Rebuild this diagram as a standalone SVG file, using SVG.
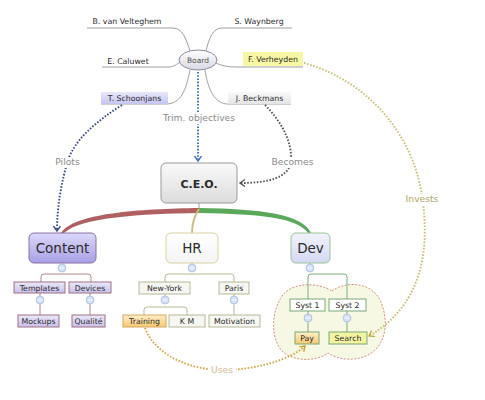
<svg xmlns="http://www.w3.org/2000/svg" width="485" height="400" viewBox="0 0 485 400">
<defs>
<linearGradient id="gBoard" x1="0" y1="0" x2="0" y2="1"><stop offset="0" stop-color="#ffffff"/><stop offset="1" stop-color="#d8d8e4"/></linearGradient>
<linearGradient id="gCeo" x1="0" y1="0" x2="0" y2="1"><stop offset="0" stop-color="#fafafa"/><stop offset="1" stop-color="#dcdcdc"/></linearGradient>
<linearGradient id="gContent" x1="0" y1="0" x2="0" y2="1"><stop offset="0" stop-color="#dcd8fa"/><stop offset="1" stop-color="#a8a0e4"/></linearGradient>
<linearGradient id="gPurple" x1="0" y1="0" x2="0" y2="1"><stop offset="0" stop-color="#ece8fa"/><stop offset="1" stop-color="#c8c0ec"/></linearGradient>
<linearGradient id="gHR" x1="0" y1="0" x2="0" y2="1"><stop offset="0" stop-color="#ffffff"/><stop offset="1" stop-color="#f4f4f6"/></linearGradient>
<linearGradient id="gDev" x1="0" y1="0" x2="0" y2="1"><stop offset="0" stop-color="#f2f2fc"/><stop offset="1" stop-color="#d4d8f2"/></linearGradient>
<linearGradient id="gOrange" x1="0" y1="0" x2="0" y2="1"><stop offset="0" stop-color="#fff0c8"/><stop offset="1" stop-color="#f8c870"/></linearGradient>
<linearGradient id="gGrey" x1="0" y1="0" x2="0" y2="1"><stop offset="0" stop-color="#fafafa"/><stop offset="1" stop-color="#e4e4e4"/></linearGradient>
<linearGradient id="gSchoon" x1="0" y1="0" x2="0" y2="1"><stop offset="0" stop-color="#e8e8fa"/><stop offset="1" stop-color="#c4c4f0"/></linearGradient>
<marker id="aTrim" markerUnits="userSpaceOnUse" markerWidth="10" markerHeight="10" refX="5" refY="3.5" orient="auto"><path d="M0,0 L5,3.5 L0,7" fill="none" stroke="#3a70c8" stroke-width="1.4"/></marker>
<marker id="aPilots" markerUnits="userSpaceOnUse" markerWidth="10" markerHeight="10" refX="5" refY="3.5" orient="auto"><path d="M0,0 L5,3.5 L0,7" fill="none" stroke="#3a4a8a" stroke-width="1.4"/></marker>
<marker id="aBecomes" markerUnits="userSpaceOnUse" markerWidth="10" markerHeight="10" refX="5" refY="3.5" orient="auto"><path d="M0,0 L5,3.5 L0,7" fill="none" stroke="#555555" stroke-width="1.4"/></marker>
<marker id="aInvests" markerUnits="userSpaceOnUse" markerWidth="10" markerHeight="10" refX="5" refY="3.5" orient="auto"><path d="M0,0 L5,3.5 L0,7" fill="none" stroke="#b8b040" stroke-width="1.4"/></marker>
<marker id="aUses" markerUnits="userSpaceOnUse" markerWidth="10" markerHeight="10" refX="5" refY="3.5" orient="auto"><path d="M0,0 L5,3.5 L0,7" fill="none" stroke="#d0a030" stroke-width="1.4"/></marker>
</defs>
<style>
text{font-family:"DejaVu Sans","Liberation Sans",sans-serif;fill:#2a2a2a;text-anchor:middle}
.s{font-size:7.8px}
.big{font-size:13.5px}
.lbl{font-size:9.2px;fill:#8a8a8a}
.ul{fill:none;stroke:#a0a0a0;stroke-width:1}
.dot{fill:none;stroke-width:1.9;stroke-dasharray:1.6 1.6}
.col circle{fill:#d4e2f8;stroke:#a8bce0;stroke-width:0.8}
.col path{stroke:#ffffff;stroke-width:1}
.cb{fill:none;stroke:#b08888;stroke-width:1}
.hb{fill:none;stroke:#b8b89a;stroke-width:1}
.db{fill:none;stroke:#78b078;stroke-width:1}
.pbox{fill:url(#gPurple);stroke:#a07080;stroke-width:1}
.hbox{fill:#f6f6f2;stroke:#b8b898;stroke-width:1}
.dbox{fill:#ffffff;stroke:#78a878;stroke-width:1}
</style>
<rect width="485" height="400" fill="#ffffff"/>

<g id="boundary">
<path d="M332,291 C345,281 372,281 381,302 C389,322 386,344 370,354 C356,362 338,360 328,353 C316,362 292,362 281,350 C270,336 272,310 282,296 C292,282 318,282 332,291 Z" fill="#f6f8e4" stroke="#d09080" stroke-width="1" stroke-dasharray="2 1.5"/>
</g>

<g id="connectors">
<path class="ul" d="M87,28 H173 C182,28 186,38 190,51"/>
<path class="ul" d="M292,28 H222 C213,28 209,38 206,51"/>
<path class="ul" d="M102,67 H168 C174,67 177,64 180,62"/>
<path class="ul" d="M216,63 C222,66 228,67 238,67 H303"/>
<path class="ul" d="M101,104 H166 C181,104 186,90 190,70"/>
<path class="ul" d="M291,104 H228 C215,104 208,90 205,70"/>
<path d="M199,203 V210" stroke="#a0a0a0" stroke-width="1" fill="none"/>
<path d="M199,208 C140,209 74,213 61,233 L64,233 C82,217 140,214 199,213 Z" fill="#b06060"/>
<path d="M199,208 C262,209 302,214 311,233 L308,233 C298,218 262,214 199,213 Z" fill="#5aa85a"/>
<path d="M199,209 C195,215 192,222 192,233" fill="none" stroke="#c8c080" stroke-width="2"/>
<path class="dot" stroke="#3a70c8" d="M198,72 V161" marker-end="url(#aTrim)"/>
<path class="dot" stroke="#3a4a8a" d="M122,105 C95,122 75,140 68,160 C62,180 57,205 57,231" marker-end="url(#aPilots)"/>
<path class="dot" stroke="#555555" d="M265,105 C280,120 292,140 291,160 C290,178 268,183 240,183" marker-end="url(#aBecomes)"/>
<path class="dot" stroke="#c8c070" d="M304,63 C365,80 410,130 421,190 C428,230 432,300 369,336" marker-end="url(#aInvests)"/>
<path class="dot" stroke="#d0a848" d="M145,328 C155,355 190,370 222,370 C255,370 290,360 305,346" marker-end="url(#aUses)"/>
<rect x="160" y="112" width="78" height="12" fill="#fff"/>
<text class="lbl" x="199" y="121">Trim. objectives</text>
<rect x="53" y="157" width="29" height="11" fill="#fff"/>
<text class="lbl" x="67.5" y="165">Pilots</text>
<rect x="270" y="157" width="45" height="11" fill="#fff"/>
<text class="lbl" x="292.5" y="165">Becomes</text>
<rect x="403" y="194" width="38" height="11" fill="#fff"/>
<text class="lbl" x="422" y="202" style="fill:#b0a860">Invests</text>
<rect x="209" y="365" width="27" height="11" fill="#fff"/>
<text class="lbl" x="222" y="373" style="fill:#d4bc94">Uses</text>
</g>

<g id="board">
<ellipse cx="198" cy="60" rx="19" ry="10" fill="url(#gBoard)" stroke="#8a8aa0" stroke-width="1"/>
<text x="198" y="63" style="font-size:7.5px;fill:#555">Board</text>
</g>
<g id="velteghem"><text class="s" x="127" y="24">B. van Velteghem</text></g>
<g id="waynberg"><text class="s" x="259" y="24">S. Waynberg</text></g>
<g id="caluwet"><text class="s" x="128" y="64">E. Caluwet</text></g>
<g id="verheyden"><rect x="243" y="52" width="60" height="14" fill="#f8f8a4"/><text class="s" x="273" y="62">F. Verheyden</text></g>
<g id="schoonjans"><rect x="101" y="92" width="67" height="12" fill="url(#gSchoon)"/><text class="s" x="134.5" y="101">T. Schoonjans</text></g>
<g id="beckmans"><rect x="228" y="92" width="63" height="12" fill="url(#gGrey)"/><text class="s" x="259.5" y="101">J. Beckmans</text></g>

<g id="ceo">
<rect x="161" y="163" width="76" height="40" rx="5" fill="url(#gCeo)" stroke="#9a9a9a" stroke-width="1"/>
<text x="199" y="188" style="font-size:11px;font-weight:bold">C.E.O.</text>
</g>

<g id="content">
<rect x="29" y="233" width="67" height="30" rx="5" fill="url(#gContent)" stroke="#8a70a0" stroke-width="1"/>
<text class="big" x="62.5" y="253">Content</text>
<path class="cb" d="M62,263 V270 M41,282 V277 Q41,274 44,274 H88 Q91,274 91,277 V282"/>
<g class="col"><circle cx="62" cy="268" r="4"/><path d="M60,268 H64"/></g>
</g>
<g id="templates">
<path class="cb" d="M40,293 V315"/>
<rect class="pbox" x="14" y="282" width="51" height="11"/><text class="s" x="39.5" y="291">Templates</text>
<g class="col"><circle cx="40" cy="300" r="4"/><path d="M38,300 H42"/></g>
</g>
<g id="devices">
<path class="cb" d="M90,293 V315"/>
<rect class="pbox" x="69" y="282" width="42" height="11"/><text class="s" x="90" y="291">Devices</text>
<g class="col"><circle cx="90" cy="300" r="4"/><path d="M88,300 H92"/></g>
</g>
<g id="mockups"><rect class="pbox" x="18" y="315" width="41" height="12"/><text class="s" x="38.5" y="324">Mockups</text></g>
<g id="qualite"><rect class="pbox" x="72" y="315" width="33" height="12"/><text class="s" x="88.5" y="324">Qualité</text></g>

<g id="hr">
<rect x="166" y="233" width="52" height="30" rx="5" fill="url(#gHR)" stroke="#d8d0a0" stroke-width="1"/>
<text class="big" x="192" y="253">HR</text>
<path class="hb" d="M192,263 V270 M165,282 V277 Q165,274 168,274 H231 Q234,274 234,277 V282"/>
<g class="col"><circle cx="192" cy="268" r="4"/><path d="M190,268 H194"/></g>
</g>
<g id="newyork">
<path class="hb" d="M165,294 V304 M144,315 V310 Q144,307 147,307 H184 Q187,307 187,310 V315"/>
<rect class="hbox" x="139" y="282" width="51" height="12"/><text class="s" x="164.5" y="291">New-York</text>
<g class="col"><circle cx="165" cy="300" r="4"/><path d="M163,300 H167"/></g>
</g>
<g id="paris">
<path class="hb" d="M234,294 V315"/>
<rect class="hbox" x="219" y="282" width="30" height="12"/><text class="s" x="234" y="291">Paris</text>
<g class="col"><circle cx="234" cy="300" r="4"/><path d="M232,300 H236"/></g>
</g>
<g id="training"><rect x="123" y="315" width="43" height="12" fill="url(#gOrange)" stroke="#d8a860" stroke-width="1"/><text class="s" x="144.5" y="324">Training</text></g>
<g id="km"><rect class="hbox" x="169" y="315" width="36" height="12"/><text class="s" x="187" y="324">K M</text></g>
<g id="motivation"><rect class="hbox" x="209" y="315" width="51" height="12"/><text class="s" x="234.5" y="324">Motivation</text></g>

<g id="dev">
<rect x="291" y="233" width="39" height="30" rx="5" fill="url(#gDev)" stroke="#98c498" stroke-width="1"/>
<text class="big" x="310.5" y="253">Dev</text>
<path class="db" d="M310,263 V270 M308,300 V277 Q308,274 311,274 H344 Q347,274 347,277 V300"/>
<g class="col"><circle cx="310" cy="268" r="4"/><path d="M308,268 H312"/></g>
</g>
<g id="syst1">
<path class="db" d="M308,311 V332"/>
<rect class="dbox" x="290" y="299" width="35" height="12"/><text class="s" x="307.5" y="308">Syst 1</text>
<g class="col"><circle cx="308" cy="318" r="4"/><path d="M306,318 H310"/></g>
</g>
<g id="syst2">
<path class="db" d="M347,311 V332"/>
<rect class="dbox" x="329" y="299" width="37" height="12"/><text class="s" x="347.5" y="308">Syst 2</text>
<g class="col"><circle cx="347" cy="318" r="4"/><path d="M345,318 H349"/></g>
</g>
<g id="pay"><rect x="295" y="332" width="24" height="12" fill="url(#gOrange)" stroke="#78a878" stroke-width="1"/><text class="s" x="307" y="341">Pay</text></g>
<g id="search"><rect x="329" y="332" width="38" height="12" fill="#f4f4a0" stroke="#78a878" stroke-width="1"/><text class="s" x="348" y="341">Search</text></g>
</svg>
